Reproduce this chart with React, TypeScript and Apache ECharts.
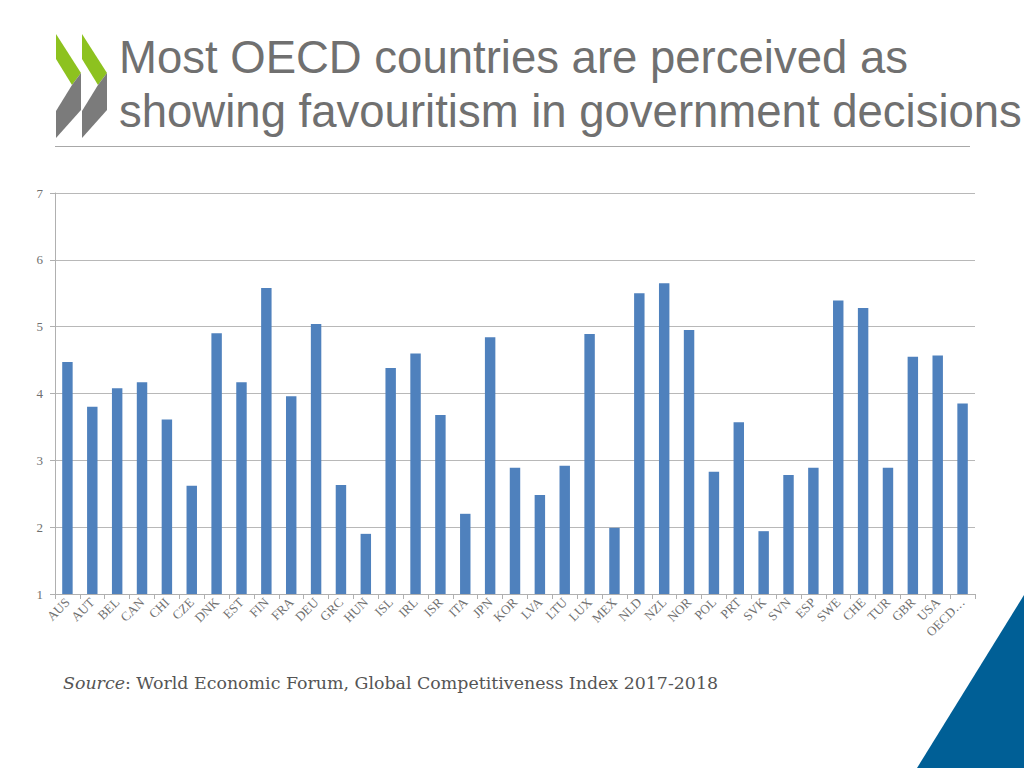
import React, { useEffect, useRef } from "react";
import * as echarts from "echarts";

const countries = ["AUS","AUT","BEL","CAN","CHI","CZE","DNK","EST","FIN","FRA","DEU","GRC","HUN","ISL","IRL","ISR","ITA","JPN","KOR","LVA","LTU","LUX","MEX","NLD","NZL","NOR","POL","PRT","SVK","SVN","ESP","SWE","CHE","TUR","GBR","USA","OECD…"];
const favouritism = [4.47,3.80,4.08,4.17,3.61,2.62,4.90,4.17,5.58,3.96,5.04,2.63,1.90,4.38,4.60,3.68,2.20,4.84,2.89,2.48,2.92,4.89,1.99,5.50,5.65,4.95,2.83,3.57,1.94,2.78,2.89,5.39,5.28,2.89,4.55,4.57,3.85];
const yTicks = [1, 2, 3, 4, 5, 6, 7];
const titleLines = ["Most OECD countries are perceived as", "showing favouritism in government decisions"];
const sourceLabel = "Source";
const sourceText = ": World Economic Forum, Global Competitiveness Index 2017-2018";

export default function App() {
  const ref = useRef<HTMLDivElement>(null);
  useEffect(() => {
    if (!ref.current) return;
    const chart = echarts.init(ref.current, null, { renderer: "svg" });
    const green = "#8dc21f";
    const grey = "#7b7b7b";
    const chev = (dx: number) => [
      {
        type: "polygon",
        shape: { points: [[56 + dx, 34], [81 + dx, 73], [72 + dx, 85], [56 + dx, 59]] },
        style: { fill: green },
      },
      {
        type: "polygon",
        shape: { points: [[81 + dx, 73], [81 + dx, 110], [56 + dx, 138], [56 + dx, 111], [72 + dx, 85]] },
        style: { fill: grey },
      },
    ];
    chart.setOption({
      animation: false,
      grid: { left: 55, right: 49, top: 193, bottom: 174 },
      xAxis: {
        type: "category",
        data: countries,
        axisLine: { lineStyle: { color: "#b0b0b0", width: 1 } },
        axisTick: { show: true, length: 5, lineStyle: { color: "#b0b0b0" } },
        axisLabel: {
          rotate: 45,
          interval: 0,
          margin: 6,
          color: "#6f6f6f",
          fontFamily: "Liberation Serif",
          fontSize: 13,
        },
      },
      yAxis: {
        type: "value",
        min: yTicks[0],
        max: yTicks[yTicks.length - 1],
        interval: 1,
        axisLine: { show: true, lineStyle: { color: "#b0b0b0", width: 1 } },
        axisTick: { show: true, length: 5, lineStyle: { color: "#b0b0b0" } },
        axisLabel: { color: "#6f6f6f", fontFamily: "Liberation Serif", fontSize: 13, margin: 12 },
        splitLine: { lineStyle: { color: "#b8b8b8", width: 1 } },
      },
      series: [
        {
          type: "bar",
          data: favouritism,
          barWidth: "42%",
          itemStyle: { color: "#4f81bd" },
        },
      ],
      graphic: [
        ...chev(0),
        ...chev(26),
        {
          type: "text",
          left: 119,
          top: 34,
          style: { text: titleLines[0], fill: "#707070", font: "45.5px 'Liberation Sans', Arial, sans-serif" },
        },
        {
          type: "text",
          left: 119,
          top: 88,
          style: { text: titleLines[1], fill: "#707070", font: "45.5px 'Liberation Sans', Arial, sans-serif" },
        },
        {
          type: "line",
          shape: { x1: 55, y1: 146.5, x2: 970, y2: 146.5 },
          style: { stroke: "#a8a8a8", lineWidth: 1 },
        },
        {
          type: "text",
          left: 63,
          top: 674,
          style: {
            text: "{i|" + sourceLabel + "}{n|" + sourceText + "}",
            rich: {
              i: { fontStyle: "italic", fontFamily: "DejaVu Serif", fontSize: 17.4, fill: "#555555" },
              n: { fontFamily: "DejaVu Serif", fontSize: 17.4, fill: "#555555" },
            },
          },
        },
        {
          type: "polygon",
          shape: { points: [[1024, 595], [1024, 768], [917, 768]] },
          style: { fill: "#005f96" },
        },
      ],
    });
    return () => chart.dispose();
  }, []);
  return (
    <div
      ref={ref}
      style={{ position: "absolute", left: 0, top: 0, width: 1024, height: 768, background: "#ffffff" }}
    />
  );
}
